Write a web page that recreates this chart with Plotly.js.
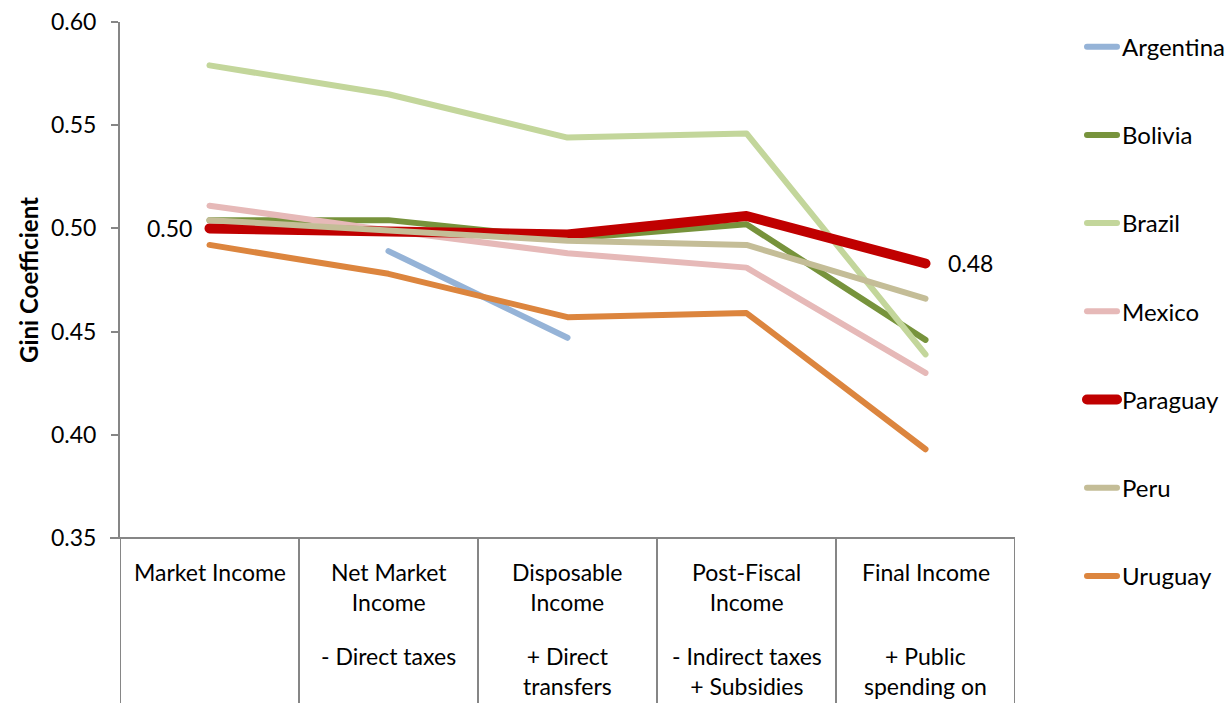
<!DOCTYPE html>
<html><head><meta charset="utf-8">
<script src="https://cdn.plot.ly/plotly-3.0.1.min.js"></script>
<style>html,body{margin:0;padding:0;background:#fff}#chart{width:1229px;height:703px}
.js-line{stroke-linecap:round !important;stroke-linejoin:round !important}</style>
</head><body><div id="chart"></div>
<script>
const categories = ["Market Income","Net Market Income","Disposable Income","Post-Fiscal Income","Final Income"];
const catTop = ["Market Income","Net Market<br>Income","Disposable<br>Income","Post-Fiscal<br>Income","Final Income"];
const catSub = ["","- Direct taxes","+ Direct<br>transfers","- Indirect taxes<br>+ Subsidies","+ Public<br>spending on"];
const countries = ["Argentina","Bolivia","Brazil","Mexico","Paraguay","Peru","Uruguay"];
const argentina = [null, 0.489, 0.447, null, null];
const bolivia   = [0.504, 0.504, 0.495, 0.502, 0.446];
const brazil    = [0.579, 0.565, 0.544, 0.546, 0.439];
const mexico    = [0.511, 0.499, 0.488, 0.481, 0.430];
const paraguay  = [0.500, 0.498, 0.497, 0.506, 0.483];
const peru      = [0.504, 0.499, 0.494, 0.492, 0.466];
const uruguay   = [0.492, 0.478, 0.457, 0.459, 0.393];
const series = [argentina, bolivia, brazil, mexico, paraguay, peru, uruguay];
const colors = ["#95B3D7","#77933C","#C3D69B","#E6B9B8","#C00000","#C4BD97","#DC853E"];
const widths = [6,6,6,6,10,6,6];
const labelFirst = "0.50", labelLast = "0.48";

const FONT = "Lato, 'Open Sans', sans-serif";
const traces = countries.map((c,i)=>({
  type:"scatter", mode:"lines", name:c, x:categories, y:series[i],
  line:{color:colors[i], width:widths[i]}, legendgroup:c, connectgaps:false,
  hoverinfo:"skip"
}));

const plotH = 516;
const annotations = [];
categories.forEach((c,i)=>{
  annotations.push({x:c, xref:"x", y:-18/plotH, yref:"paper", yanchor:"top", xanchor:"center",
    text:catTop[i], showarrow:false, font:{family:FONT, size:23, color:"#000"}});
  if(catSub[i]) annotations.push({x:c, xref:"x", y:-102/plotH, yref:"paper", yanchor:"top", xanchor:"center",
    text:catSub[i], showarrow:false, font:{family:FONT, size:23, color:"#000"}});
});
annotations.push({x:categories[0], y:paraguay[0], xref:"x", yref:"y", xanchor:"right", xshift:-16,
  text:labelFirst, showarrow:false, font:{family:FONT, size:23, color:"#000"}});
annotations.push({x:categories[4], y:paraguay[4], xref:"x", yref:"y", xanchor:"left", xshift:20,
  text:labelLast, showarrow:false, font:{family:FONT, size:23, color:"#000"}});

const shapes = [];
for(let k=0;k<=categories.length;k++){
  shapes.push({type:"line", xref:"x", yref:"paper", x0:k-0.5, x1:k-0.5, y0:0, y1:-170/plotH,
    line:{color:"#868686", width:2}});
}
shapes.push({type:"line", xref:"paper", yref:"paper", x0:-10/895, x1:1, y0:0, y1:0,
  line:{color:"#868686", width:2}});

const layout = {
  width:1229, height:703,
  margin:{l:120, r:214, t:22, b:165, autoexpand:false},
  paper_bgcolor:"#fff", plot_bgcolor:"#fff",
  font:{family:FONT, size:23, color:"#000"},
  showlegend:true,
  legend:{x:(1082-120)/895, xanchor:"left", y:0.995, yanchor:"top", traceorder:"grouped",
    tracegroupgap:54, maxheight:700, font:{family:FONT, size:24, color:"#000"}, itemwidth:30},
  xaxis:{type:"category", range:[-0.5,4.5], showticklabels:false, ticks:"", showgrid:false,
    zeroline:false, showline:false, fixedrange:true, automargin:false},
  yaxis:{range:[0.35,0.60], dtick:0.05, tick0:0.35, tickformat:".2f", showgrid:false, zeroline:false,
    automargin:false,
    showline:true, linecolor:"#868686", linewidth:2, ticks:"outside", ticklen:7, tickcolor:"#868686",
    tickwidth:2, tickfont:{family:FONT, size:23, color:"#000"}, ticklabelstandoff:10,
    title:{text:"<b>Gini Coefficient</b>", font:{family:FONT, size:24, color:"#000"}, standoff:6}},
  annotations:annotations, shapes:shapes
};
Plotly.newPlot("chart", traces, layout, {displayModeBar:false, staticPlot:true});
</script></body></html>
